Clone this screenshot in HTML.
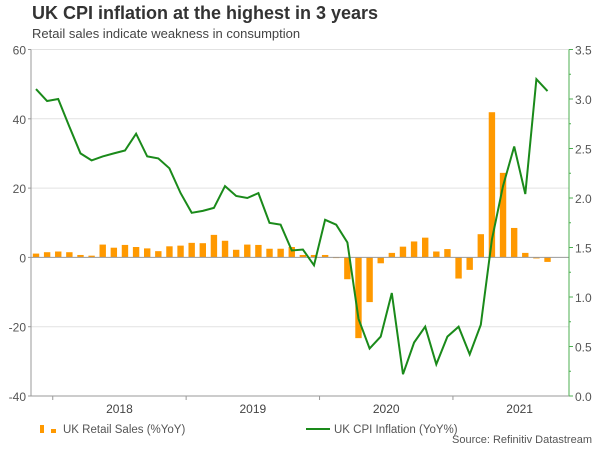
<!DOCTYPE html>
<html><head><meta charset="utf-8"><style>
body{margin:0;background:#fff;font-family:"Liberation Sans",sans-serif;}
svg text{font-family:"Liberation Sans",sans-serif;}
</style></head><body>
<svg id="c" width="600" height="450" xmlns="http://www.w3.org/2000/svg">
<text x="32" y="19" font-size="18" font-weight="bold" fill="#333">UK  CPI inflation at the highest in 3 years</text>
<text x="32" y="38" font-size="13" fill="#444">Retail sales indicate weakness in consumption</text>
<g id="grid"></g>
<g id="bars"></g>
<g id="axes"></g>
<path id="line" fill="none" stroke="#1a8a1a" stroke-width="2"/>
<g>
<rect x="40" y="425" width="4" height="8" fill="#ff9900"/>
<rect x="51" y="429" width="5" height="4" fill="#ff9900"/>
<text x="63" y="433" font-size="11.5" fill="#555">UK Retail Sales (%YoY)</text>
<line x1="306" y1="429" x2="330" y2="429" stroke="#1a8a1a" stroke-width="2"/>
<text x="334" y="433" font-size="11.5" fill="#555">UK CPI Inflation (YoY%)</text>
</g>
<text x="592" y="443" font-size="11" fill="#555" text-anchor="end">Source: Refinitiv Datastream</text>
</svg>
<script>
const retail=[1.1,1.5,1.7,1.5,0.7,0.5,3.7,2.8,3.6,3.0,2.6,1.8,3.2,3.4,4.2,4.1,6.5,4.8,2.2,3.7,3.6,2.5,2.5,3.0,0.7,0.7,0.7,-0.2,-6.3,-23.3,-12.9,-1.7,1.3,3.1,4.6,5.7,1.7,2.4,-6.1,-3.6,6.7,41.9,24.4,8.5,1.3,-0.3,-1.3];
const cpi=[3.1,2.98,3.0,2.72,2.45,2.38,2.42,2.45,2.48,2.65,2.42,2.4,2.3,2.05,1.85,1.87,1.9,2.12,2.02,2.0,2.05,1.75,1.73,1.47,1.48,1.32,1.78,1.73,1.55,0.78,0.48,0.6,1.04,0.22,0.54,0.7,0.32,0.6,0.7,0.42,0.72,1.58,2.12,2.52,2.04,3.2,3.08];
const leftTicks=[60,40,20,0,-20,-40];
const rightTicks=[3.5,3.0,2.5,2.0,1.5,1.0,0.5,0.0];
const years=["2018","2019","2020","2021"];
const NS="http://www.w3.org/2000/svg";
const X0=31,X1=569,Y0=49.5,Y1=396;
const xi=i=>36+11.12*i;
const yL=v=>Y1-(v+40)/100*(Y1-Y0);
const yR=v=>Y1-v/3.5*(Y1-Y0);
function mk(tag,attrs,parent){const e=document.createElementNS(NS,tag);for(const k in attrs)e.setAttribute(k,attrs[k]);parent.appendChild(e);return e;}
const grid=document.getElementById('grid'),axes=document.getElementById('axes'),bars=document.getElementById('bars');
leftTicks.forEach(t=>{
  if(t!==0&&t!==-40){const g=mk('line',{x1:X0,x2:X1,y1:yL(t),y2:yL(t),stroke:'#e2e2e2','stroke-width':1},grid);
  
  }
  const tx=mk('text',{x:26,y:yL(t)+5,'font-size':12,fill:'#555','text-anchor':'end'},axes);tx.textContent=t;
  
  
  mk('line',{x1:X0-3,x2:X0,y1:yL(t),y2:yL(t),stroke:'#999'},axes);
});
rightTicks.forEach(t=>{
  const tx=mk('text',{x:575,y:yR(t)+5,'font-size':12,fill:'#555'},axes);tx.textContent=t.toFixed(1);
  
  
  mk('line',{x1:X1,x2:X1+4,y1:yR(t),y2:yR(t),stroke:'#4caf50'},axes);
  if(t>0)mk('line',{x1:X1,x2:X1+2,y1:yR(t-0.25),y2:yR(t-0.25),stroke:'#4caf50'},axes);
});
retail.forEach((v,i)=>{
  const y=Math.min(yL(v),yL(0)),h=Math.abs(yL(v)-yL(0));
  const r=mk('rect',{x:xi(i)-3.2,y:y,width:6.4,height:Math.max(h,0.5),fill:'#ff9900'},bars);
  
  
});
mk('line',{x1:X0,x2:X1,y1:yL(0),y2:yL(0),stroke:'#999','stroke-width':1},axes);
mk('line',{x1:X0,x2:X0,y1:Y0,y2:Y1,stroke:'#999'},axes);
mk('line',{x1:X1,x2:X1,y1:Y0,y2:Y1,stroke:'#4caf50'},axes);
mk('line',{x1:X0,x2:X1,y1:Y1,y2:Y1,stroke:'#999'},axes);
years.forEach((yr,k)=>{
  const tx0=xi(2)-5.5+133.4*k;
  mk('line',{x1:tx0,x2:tx0,y1:Y1,y2:Y1+4,stroke:'#999'},axes);
  const tx=mk('text',{x:tx0+66.7,y:413,'font-size':12,fill:'#444','text-anchor':'middle'},axes);tx.textContent=yr;
  
  
});
document.getElementById('line').setAttribute('d',cpi.map((v,i)=>(i?'L':'M')+xi(i).toFixed(1)+','+yR(v).toFixed(1)).join(''));
</script>
</body></html>
